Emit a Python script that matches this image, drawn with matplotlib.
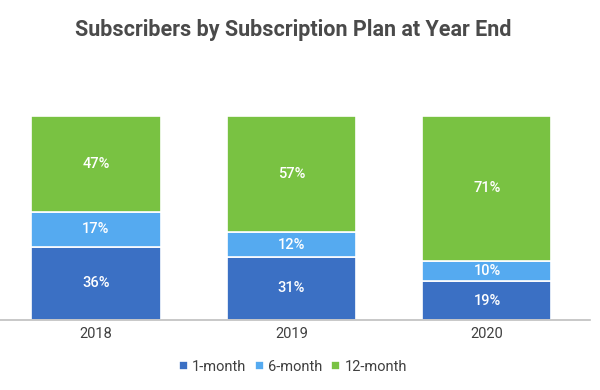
import matplotlib

matplotlib.use("Agg")
import matplotlib.pyplot as plt
import numpy as np

years = ["2018", "2019", "2020"]
plans = ["1-month", "6-month", "12-month"]
one_month = [36, 31, 19]
six_month = [17, 12, 10]
twelve_month = [47, 57, 71]
colors = ["#3b70c4", "#55aaf0", "#79c242"]

plt.rcParams["font.family"] = ["Roboto", "DejaVu Sans"]

fig = plt.figure(figsize=(6.0, 3.9), dpi=100)
ax = fig.add_axes([0.0, 1 - 320 / 390, 590 / 600, (320 - 116) / 390])

x = np.arange(len(years))
bottom = np.zeros(len(years))
for name, vals, c in zip(plans, [one_month, six_month, twelve_month], colors):
    vals = np.array(vals, dtype=float)
    ax.bar(x, vals, 0.66, bottom=bottom, color=c, edgecolor="white", linewidth=1.2, label=name)
    for xi, b, v in zip(x, bottom, vals):
        ax.text(xi, b + v / 2, f"{int(v)}%", ha="center", va="center",
                color="white", fontsize=10.5, fontweight="medium")
    bottom += vals

ax.set_xlim(-0.491, 2.527)
ax.set_ylim(0, 100)
ax.set_yticks([])
ax.set_xticks(x)
ax.set_xticklabels(years, fontsize=10.5, color="#404040")
ax.tick_params(axis="x", length=0, pad=5)
for s in ["top", "right", "left"]:
    ax.spines[s].set_visible(False)
ax.spines["bottom"].set_color("#bfbfbf")
ax.spines["bottom"].set_linewidth(1.2)
ax.patch.set_alpha(0)

fig.text(293 / 600, 1 - 30 / 390, "Subscribers by Subscription Plan at Year End",
         ha="center", va="center", fontsize=15.5, fontweight="bold", color="#4a4a4a")
fig.legend(loc="center", bbox_to_anchor=(293 / 600, 1 - 367 / 390), ncol=3, frameon=False,
           handlelength=0.6, handleheight=0.6, handletextpad=0.3, columnspacing=0.6,
           fontsize=10.5, labelcolor="#404040")

fig.savefig("out.png", dpi=100)
